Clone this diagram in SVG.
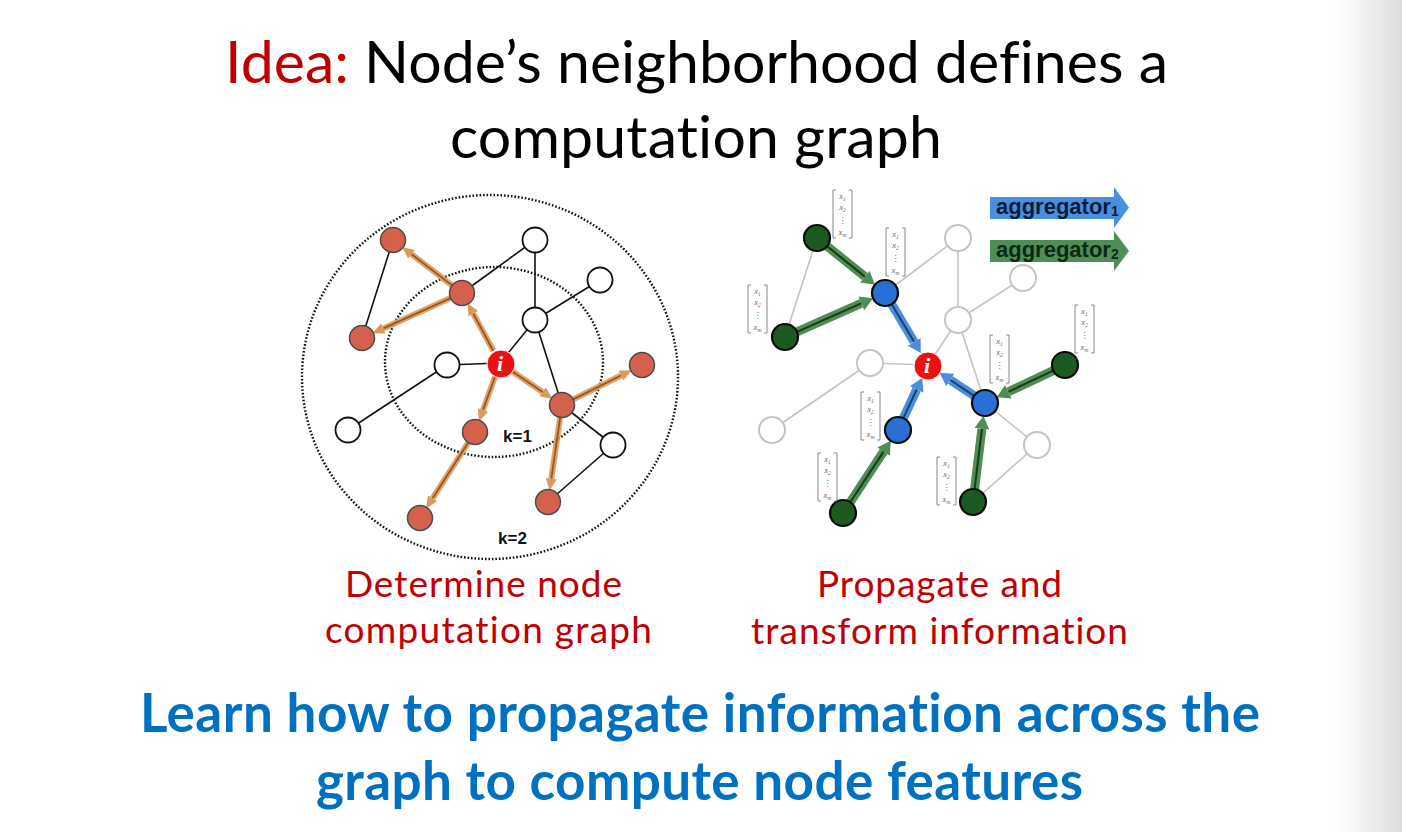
<svg xmlns="http://www.w3.org/2000/svg" width="1402" height="832" viewBox="0 0 1402 832">
<defs>
  <linearGradient id="edge" x1="0" y1="0" x2="1" y2="0">
    <stop offset="0" stop-color="#ffffff" stop-opacity="0"/>
    <stop offset="0.5" stop-color="#f3f3f3"/>
    <stop offset="1" stop-color="#dcdcdc"/>
  </linearGradient>
  <marker id="ahO" markerUnits="userSpaceOnUse" markerWidth="12" markerHeight="11" refX="0" refY="5.5" orient="auto">
    <path d="M0,0 L12,5.5 L0,11 z" fill="#dc9a5a"/>
  </marker>
  <marker id="ahB" markerUnits="userSpaceOnUse" markerWidth="13" markerHeight="15" refX="0" refY="7.5" orient="auto">
    <path d="M0,0 L13,7.5 L0,15 z" fill="#4a8fd8"/>
  </marker>
  <marker id="ahG" markerUnits="userSpaceOnUse" markerWidth="13" markerHeight="15" refX="0" refY="7.5" orient="auto">
    <path d="M0,0 L13,7.5 L0,15 z" fill="#4f8d55"/>
  </marker>
</defs>
<style>
  text{font-variant-ligatures:none}
  .title{font-family:Lato,"Liberation Sans",sans-serif;font-size:59px;fill:#000}
  .red{fill:#c00000}
  .cap{font-family:Lato,"Liberation Sans",sans-serif;font-size:37px;fill:#c00000}
  .blue{font-family:Lato,"Liberation Sans",sans-serif;font-weight:bold;font-size:53px;fill:#0070c0}
  .ring{fill:none;stroke:#111;stroke-width:2.4;stroke-dasharray:1.6 1.9}
  .bl{stroke:#111;stroke-width:1.6;fill:none}
  .gl{stroke:#c4c4c4;stroke-width:1.6;fill:none}
  .oOut{stroke:#dc9a5a;stroke-width:6;fill:none;stroke-opacity:0.9}
  .oIn{stroke:#9a5520;stroke-width:1.8;fill:none}
  .bOut{stroke:#4a8fd8;stroke-width:9;fill:none}
  .bIn{stroke:#163f7a;stroke-width:2;fill:none}
  .gOut{stroke:#4f8d55;stroke-width:9;fill:none}
  .gIn{stroke:#123d16;stroke-width:2;fill:none}
  .nr{fill:#d4614b;stroke:#4a4a4a;stroke-width:1.5}
  .nw{fill:#fff;stroke:#111;stroke-width:1.8}
  .ngw{fill:#fff;stroke:#c4c4c4;stroke-width:2}
  .nb{fill:#2a6fd3;stroke:#0a0a0a;stroke-width:2.2}
  .ng{fill:#1c5a22;stroke:#0a0a0a;stroke-width:2.2}
  .ni{fill:#ec1010;stroke:#fff;stroke-width:1}
  .il{font-family:"Liberation Serif",serif;font-style:italic;font-weight:bold;font-size:22px;fill:#fff;text-anchor:middle}
  .k{font-family:"Liberation Sans",Arial,sans-serif;font-weight:bold;font-size:17px;fill:#111}
  .agg{font-family:"Liberation Sans",Arial,sans-serif;font-weight:bold;font-size:22px}
  .vec path{fill:none;stroke:#7a7a7a;stroke-width:0.9}
  .vec text{font-family:"Liberation Serif","DejaVu Serif",serif;font-style:italic;font-size:8.5px;fill:#666;text-anchor:middle}
  .vec .dots{font-family:"DejaVu Sans",sans-serif;font-style:normal;font-size:8px}
  .sub{font-size:5.5px}
</style>
<rect width="1402" height="832" fill="#fff"/>
<rect x="1320" y="0" width="82" height="832" fill="url(#edge)"/>

<!-- Title -->
<text class="title" x="225" y="83" textLength="943"><tspan class="red">Idea:</tspan> Node’s neighborhood defines a</text>
<text class="title" x="450" y="158" textLength="492">computation graph</text>

<!-- Left figure -->
<g id="rings">
  <ellipse class="ring" cx="490" cy="377" rx="188" ry="182"/>
  <ellipse class="ring" cx="494" cy="362" rx="109" ry="95"/>
  <text class="k" x="503" y="442">k=1</text>
  <text class="k" x="498" y="544">k=2</text>
</g>

<g id="connectors">
  <!-- left black edges -->
  <line class="bl" x1="393" y1="240" x2="362" y2="338"/>
  <line class="bl" x1="462" y1="293" x2="535" y2="240"/>
  <line class="bl" x1="535" y1="240" x2="535" y2="320"/>
  <line class="bl" x1="535" y1="320" x2="600" y2="280"/>
  <line class="bl" x1="535" y1="320" x2="500" y2="363"/>
  <line class="bl" x1="535" y1="320" x2="562" y2="405"/>
  <line class="bl" x1="447" y1="365" x2="500" y2="363"/>
  <line class="bl" x1="447" y1="365" x2="348" y2="430"/>
  <line class="bl" x1="562" y1="405" x2="613" y2="445"/>
  <line class="bl" x1="613" y1="445" x2="548" y2="502"/>
  <!-- left orange arrows -->
  <path class="oOut" marker-end="url(#ahO)" d="M493.3,350.7 L473.3,313.7"/>
  <path class="oIn" d="M493.3,350.7 L473.3,313.7"/>
  <path class="oOut" marker-end="url(#ahO)" d="M452.1,285.4 L411.6,254.3"/>
  <path class="oIn" d="M452.1,285.4 L411.6,254.3"/>
  <path class="oOut" marker-end="url(#ahO)" d="M450.6,298.1 L383.4,328.4"/>
  <path class="oIn" d="M450.6,298.1 L383.4,328.4"/>
  <path class="oOut" marker-end="url(#ahO)" d="M495.2,376.2 L483.0,409.9"/>
  <path class="oIn" d="M495.2,376.2 L483.0,409.9"/>
  <path class="oOut" marker-end="url(#ahO)" d="M468.3,442.5 L432.6,498.3"/>
  <path class="oIn" d="M468.3,442.5 L432.6,498.3"/>
  <path class="oOut" marker-end="url(#ahO)" d="M511.6,370.9 L542.6,391.9"/>
  <path class="oIn" d="M511.6,370.9 L542.6,391.9"/>
  <path class="oOut" marker-end="url(#ahO)" d="M573.2,399.4 L621.0,375.5"/>
  <path class="oIn" d="M573.2,399.4 L621.0,375.5"/>
  <path class="oOut" marker-end="url(#ahO)" d="M560.2,417.4 L551.3,478.7"/>
  <path class="oIn" d="M560.2,417.4 L551.3,478.7"/>

  <!-- right gray edges -->
  <line class="gl" x1="817" y1="238" x2="785" y2="337"/>
  <line class="gl" x1="885" y1="293" x2="958" y2="238"/>
  <line class="gl" x1="958" y1="238" x2="958" y2="320"/>
  <line class="gl" x1="958" y1="320" x2="1023" y2="278"/>
  <line class="gl" x1="958" y1="320" x2="928" y2="365"/>
  <line class="gl" x1="958" y1="320" x2="985" y2="403"/>
  <line class="gl" x1="870" y1="363" x2="928" y2="365"/>
  <line class="gl" x1="870" y1="363" x2="772" y2="430"/>
  <line class="gl" x1="985" y1="403" x2="1037" y2="445"/>
  <line class="gl" x1="1037" y1="445" x2="973" y2="502"/>
  <!-- blue arrows -->
  <path class="bOut" marker-end="url(#ahB)" d="M891.7,304.2 L914.1,341.8"/>
  <path class="bIn" d="M891.7,304.2 L914.1,341.8"/>
  <path class="bOut" marker-end="url(#ahB)" d="M903.4,418.2 L916.7,389.5"/>
  <path class="bIn" d="M903.4,418.2 L916.7,389.5"/>
  <path class="bOut" marker-end="url(#ahB)" d="M974.2,395.8 L950.4,380.0"/>
  <path class="bIn" d="M974.2,395.8 L950.4,380.0"/>
  <!-- green arrows -->
  <path class="gOut" marker-end="url(#ahG)" d="M827.1,246.2 L864.8,276.6"/>
  <path class="gIn" d="M827.1,246.2 L864.8,276.6"/>
  <path class="gOut" marker-end="url(#ahG)" d="M796.9,331.8 L861.2,303.4"/>
  <path class="gIn" d="M796.9,331.8 L861.2,303.4"/>
  <path class="gOut" marker-end="url(#ahG)" d="M1053.3,370.6 L1008.4,391.8"/>
  <path class="gIn" d="M1053.3,370.6 L1008.4,391.8"/>
  <path class="gOut" marker-end="url(#ahG)" d="M974.6,489.1 L981.9,428.8"/>
  <path class="gIn" d="M974.6,489.1 L981.9,428.8"/>
  <path class="gOut" marker-end="url(#ahG)" d="M850.2,502.2 L883.6,451.6"/>
  <path class="gIn" d="M850.2,502.2 L883.6,451.6"/>
</g>

<!-- Left nodes -->
<g id="L-A"><circle class="nr" cx="393" cy="240" r="12.5"/></g>
<g id="L-B"><circle class="nw" cx="535" cy="240" r="12.5"/></g>
<g id="L-C"><circle class="nr" cx="462" cy="293" r="12.5"/></g>
<g id="L-D"><circle class="nw" cx="600" cy="280" r="12.5"/></g>
<g id="L-E"><circle class="nw" cx="535" cy="320" r="12.5"/></g>
<g id="L-F"><circle class="nr" cx="362" cy="338" r="12.5"/></g>
<g id="L-G"><circle class="nw" cx="447" cy="365" r="12.5"/></g>
<g id="L-H"><circle class="nr" cx="642" cy="365" r="12.5"/></g>
<g id="L-J"><circle class="nr" cx="562" cy="405" r="12.5"/></g>
<g id="L-K"><circle class="nw" cx="348" cy="430" r="12.5"/></g>
<g id="L-L"><circle class="nr" cx="475" cy="432" r="12.5"/></g>
<g id="L-M"><circle class="nw" cx="613" cy="445" r="12.5"/></g>
<g id="L-N"><circle class="nr" cx="420" cy="518" r="12.5"/></g>
<g id="L-O"><circle class="nr" cx="548" cy="502" r="12.5"/></g>
<g id="L-i"><circle class="ni" cx="501" cy="364" r="14"/><text class="il" x="500" y="371">i</text></g>

<!-- Right nodes -->
<g id="R-G1"><circle class="ng" cx="817" cy="238" r="13"/></g>
<g id="R-B1"><circle class="nb" cx="885" cy="293" r="13"/></g>
<g id="R-G2"><circle class="ng" cx="785" cy="337" r="13"/></g>
<g id="R-W1"><circle class="ngw" cx="958" cy="238" r="13"/></g>
<g id="R-W2"><circle class="ngw" cx="1023" cy="278" r="13"/></g>
<g id="R-W3"><circle class="ngw" cx="958" cy="320" r="13"/></g>
<g id="R-W4"><circle class="ngw" cx="870" cy="363" r="13"/></g>
<g id="R-B2"><circle class="nb" cx="985" cy="403" r="13"/></g>
<g id="R-G3"><circle class="ng" cx="1065" cy="365" r="13"/></g>
<g id="R-B3"><circle class="nb" cx="898" cy="430" r="13"/></g>
<g id="R-W5"><circle class="ngw" cx="772" cy="430" r="13"/></g>
<g id="R-W6"><circle class="ngw" cx="1037" cy="445" r="13"/></g>
<g id="R-G4"><circle class="ng" cx="843" cy="513" r="13"/></g>
<g id="R-G5"><circle class="ng" cx="973" cy="502" r="13"/></g>
<g id="R-i"><circle class="ni" cx="928" cy="366" r="14"/><text class="il" x="927" y="373">i</text></g>

<!-- Feature vectors -->
<g class="vec" transform="translate(833,190)"><path d="M3,0 H0 V48 H3 M16,0 H19 V48 H16"/><text x="9.5" y="9">x<tspan class="sub" dy="1.5">1</tspan></text><text x="9.5" y="20">x<tspan class="sub" dy="1.5">2</tspan></text><text class="dots" x="9.5" y="33">⋮</text><text x="9.5" y="45">x<tspan class="sub" dy="1.5">m</tspan></text></g>
<g class="vec" transform="translate(886,228)"><path d="M3,0 H0 V48 H3 M16,0 H19 V48 H16"/><text x="9.5" y="9">x<tspan class="sub" dy="1.5">1</tspan></text><text x="9.5" y="20">x<tspan class="sub" dy="1.5">2</tspan></text><text class="dots" x="9.5" y="33">⋮</text><text x="9.5" y="45">x<tspan class="sub" dy="1.5">m</tspan></text></g>
<g class="vec" transform="translate(748,285)"><path d="M3,0 H0 V48 H3 M16,0 H19 V48 H16"/><text x="9.5" y="9">x<tspan class="sub" dy="1.5">1</tspan></text><text x="9.5" y="20">x<tspan class="sub" dy="1.5">2</tspan></text><text class="dots" x="9.5" y="33">⋮</text><text x="9.5" y="45">x<tspan class="sub" dy="1.5">m</tspan></text></g>
<g class="vec" transform="translate(990,335)"><path d="M3,0 H0 V48 H3 M16,0 H19 V48 H16"/><text x="9.5" y="9">x<tspan class="sub" dy="1.5">1</tspan></text><text x="9.5" y="20">x<tspan class="sub" dy="1.5">2</tspan></text><text class="dots" x="9.5" y="33">⋮</text><text x="9.5" y="45">x<tspan class="sub" dy="1.5">m</tspan></text></g>
<g class="vec" transform="translate(1075,305)"><path d="M3,0 H0 V48 H3 M16,0 H19 V48 H16"/><text x="9.5" y="9">x<tspan class="sub" dy="1.5">1</tspan></text><text x="9.5" y="20">x<tspan class="sub" dy="1.5">2</tspan></text><text class="dots" x="9.5" y="33">⋮</text><text x="9.5" y="45">x<tspan class="sub" dy="1.5">m</tspan></text></g>
<g class="vec" transform="translate(861,392)"><path d="M3,0 H0 V48 H3 M16,0 H19 V48 H16"/><text x="9.5" y="9">x<tspan class="sub" dy="1.5">1</tspan></text><text x="9.5" y="20">x<tspan class="sub" dy="1.5">2</tspan></text><text class="dots" x="9.5" y="33">⋮</text><text x="9.5" y="45">x<tspan class="sub" dy="1.5">m</tspan></text></g>
<g class="vec" transform="translate(818,453)"><path d="M3,0 H0 V48 H3 M16,0 H19 V48 H16"/><text x="9.5" y="9">x<tspan class="sub" dy="1.5">1</tspan></text><text x="9.5" y="20">x<tspan class="sub" dy="1.5">2</tspan></text><text class="dots" x="9.5" y="33">⋮</text><text x="9.5" y="45">x<tspan class="sub" dy="1.5">m</tspan></text></g>
<g class="vec" transform="translate(937,457)"><path d="M3,0 H0 V48 H3 M16,0 H19 V48 H16"/><text x="9.5" y="9">x<tspan class="sub" dy="1.5">1</tspan></text><text x="9.5" y="20">x<tspan class="sub" dy="1.5">2</tspan></text><text class="dots" x="9.5" y="33">⋮</text><text x="9.5" y="45">x<tspan class="sub" dy="1.5">m</tspan></text></g>

<!-- Legend arrows -->
<g id="agg1">
  <path d="M990,197 H1114 V187 L1129,207.5 L1114,228 V219 H990 z" fill="#4a8fdc"/>
  <text class="agg" x="996" y="214" fill="#0a1c3c">aggregator<tspan font-size="14" dy="2">1</tspan></text>
</g>
<g id="agg2">
  <path d="M990,240 H1114 V231 L1129,251 L1114,271 V262 H990 z" fill="#4f8d57"/>
  <text class="agg" x="996" y="257" fill="#0b2a10">aggregator<tspan font-size="14" dy="2">2</tspan></text>
</g>

<!-- Captions -->
<text class="cap" x="345" y="597" textLength="277">Determine node</text>
<text class="cap" x="325" y="643" textLength="327">computation graph</text>
<text class="cap" x="817" y="597" textLength="245">Propagate and</text>
<text class="cap" x="751" y="644" textLength="377">transform information</text>

<!-- Bottom message -->
<text class="blue" x="140" y="732" textLength="1120">Learn how to propagate information across the</text>
<text class="blue" x="316" y="800" textLength="767">graph to compute node features</text>
</svg>
